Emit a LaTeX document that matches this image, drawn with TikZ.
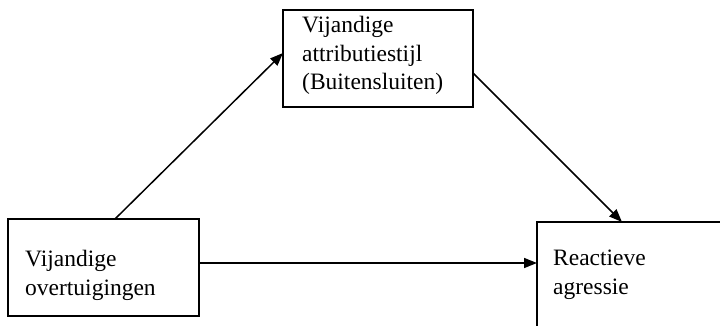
\documentclass[tikz,border=0pt]{standalone}
\usepackage{fontspec}
\setmainfont{Liberation Serif}
\usetikzlibrary{arrows.meta}
\begin{document}
\begin{tikzpicture}[x=1pt,y=-1pt,
  box/.style={draw,line width=1.7pt,rectangle,inner sep=0pt,outer sep=0pt},
  lbl/.style={anchor=base west,align=left,inner sep=0pt,font=\fontsize{23.5}{28.5}\selectfont},
  conn/.style={line width=1.5pt,-{Triangle[length=13pt,width=10pt]}}]
\useasboundingbox (0,0) rectangle (720,326);
\clip (0,0) rectangle (720,326);
\node[box,minimum width=190pt,minimum height=97pt] (tb) at (378,58.5) {};
\node[box,minimum width=191pt,minimum height=97pt] (lb) at (103.5,267.5) {};
\node[box,minimum width=200pt,minimum height=120pt] (rb) at (637,282) {};
\node[lbl] (tt) at (302,90) {Vijandige\\attributiestijl\\(Buitensluiten)};
\node[lbl] (lt) at (25,295) {Vijandige\\overtuigingen};
\node[lbl] (rt) at (553,294) {Reactieve\\agressie};
\draw[conn] ([xshift=107pt]lb.north west) -- ([yshift=-43pt]tb.north west);
\draw[conn] ([yshift=-63pt]tb.north east) -- ([xshift=85pt]rb.north west);
\coordinate (h) at ([yshift=4.5pt]lb.east);
\draw[conn] (h) -- (h -| rb.west);
\end{tikzpicture}
\end{document}
